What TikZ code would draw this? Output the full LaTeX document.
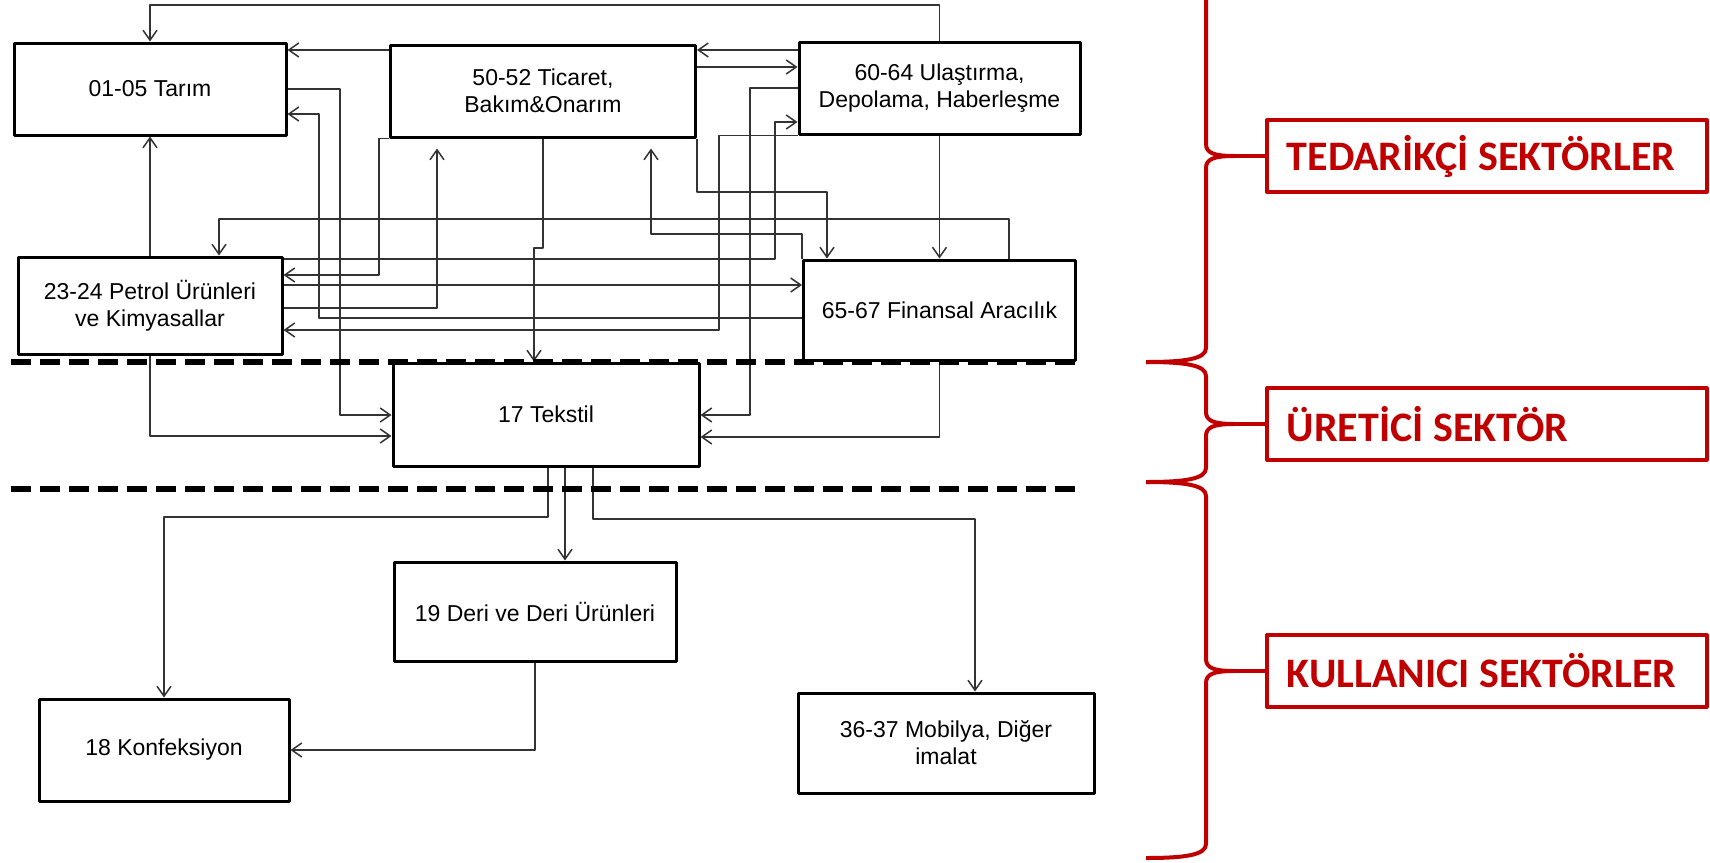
\documentclass[tikz,border=0pt]{standalone}
\usepackage{fontspec}
\setmainfont{Liberation Sans}
\newfontfamily\etiketfont{Carlito}
\usetikzlibrary{arrows.meta}
\definecolor{kirmizi}{RGB}{192,0,0}
\begin{document}
\begin{tikzpicture}[
				x=1pt,y=-1pt,line join = round,>={Straight Barb[length=10pt,width=14pt]},
				kutu/.style={rectangle,draw = black,line width=3pt,fill = white,inner sep=0pt,align=center,font=\fontsize{23}{27}\selectfont},
				etiket/.style={rectangle,draw = kirmizi,line width=3.5pt,fill = white,anchor=west,inner xsep=20pt,minimum height=72pt,text=kirmizi,font=\etiketfont\bfseries\fontsize{42}{48}\selectfont},
				ok/.style={->,line width=1.5pt,draw = black!80},
				ayrac/.style={line width=6pt,dash pattern=on 20pt off 9pt},
				kume/.style={draw = kirmizi,line width=4pt}]
				\useasboundingbox (0,0) rectangle (1710,862);
				\clip (0,0) rectangle (1710,862);
				\node at (150,89) (nodeTarim) [kutu,minimum width=272pt,minimum height=92pt] {01-05 Tarım};
				\node at (543,91) (nodeTic) [kutu,minimum width=305pt,minimum height=92pt] {50-52 Ticaret,\\Bakım\&Onarım};
				\node at (939.5,88) (nodeUlas) [kutu,minimum width=281pt,minimum height=92pt] {60-64 Ulaştırma,\\Depolama, Haberleşme};
				\node at (150,305.5) (nodePet) [kutu,minimum width=264pt,minimum height=97pt] {23-24 Petrol Ürünleri\\ve Kimyasallar};
				\node at (939.5,310) (nodeFin) [kutu,minimum width=272pt,minimum height=100pt] {65-67 Finansal Aracılık};
				\node at (546,414.5) (nodeTek) [kutu,minimum width=306pt,minimum height=103pt] {17 Tekstil};
				\node at (535,611.5) (nodeDeri) [kutu,minimum width=282pt,minimum height=99pt] {19 Deri ve Deri Ürünleri};
				\node at (164,750) (nodeKonf) [kutu,minimum width=250pt,minimum height=102pt] {18 Konfeksiyon};
				\node at (946,743) (nodeMob) [kutu,minimum width=296pt,minimum height=100pt] {36-37 Mobilya, Diğer\\imalat};
				\draw[ok] (nodeUlas.north) |- (150,5) -- (nodeTarim.north);
				\draw[ok] (nodeTic.west |- 0,50) -- (nodeTarim.east |- 0,50);
				\draw[ok] (nodeUlas.west |- 0,50) -- (nodeTic.east |- 0,50);
				\draw[ok] (nodeTic.east |- 0,67) -- (nodeUlas.west |- 0,67);
				\draw[ok] (nodeTarim.east) -| (340,415) -- (nodeTek.west |- 0,415);
				\draw[ok] (nodePet.north) -- (nodeTarim.south);
				\draw[ok] (nodePet.south) |- (nodeTek.west |- 0,436);
				\draw[ok] (nodeFin.north -| 1009,0) |- (219,219) -- (nodePet.north -| 219,0);
				\draw[ok] (nodeTic.south west) -| (379,275) -- (nodePet.east |- 0,275);
				\draw[ok,shorten >=10pt] (nodePet.east |- 0,308) -| (nodeTic.south -| 437,0);
				\draw[ok] (nodePet.east |- 0,259) -| (775,122) -- (nodeUlas.west |- 0,122);
				\draw[ok] (nodePet.east |- 0,285) -- (nodeFin.west |- 0,285);
				\draw[ok] (nodeFin.west |- 0,318) -| (319,114) -- (nodeTarim.east |- 0,114);
				\draw[ok] (nodeUlas.south west) -| (719,330) -- (nodePet.east |- 0,330);
				\draw[ok] (nodeUlas.west) -| (750,415) -- (nodeTek.east |- 0,415);
				\draw[ok] (nodeFin.south) |- (nodeTek.east |- 0,437);
				\draw[ok] (nodeUlas.south) -- (nodeFin.north);
				\draw[ok] (nodeTic.south east) |- (827,192) -- (nodeFin.north -| 827,0);
				\draw[ok,shorten >=10pt] (nodeFin.north west) |- (651,234) -- (nodeTic.south -| 651,0);
				\draw[ok] (nodeTic.south) |- (534,248) -- (nodeTek.north -| 534,0);
				\draw[ok] (nodeTek.south -| 548,0) -- (548,517) -| (nodeKonf.north);
				\draw[ok] (nodeTek.south -| 565,0) -- (nodeDeri.north -| 565,0);
				\draw[ok] (nodeTek.south -| 593,0) -- (593,519) -| (nodeMob.north -| 975,0);
				\draw[ok] (nodeDeri.south) |- (nodeKonf.east);
				\draw[ayrac] (11,362) -- (1083,362);
				\draw[ayrac] (11,489) -- (1077,489);
				\node at (1265,156) (nodeTed) [etiket] {\makebox[400pt][l]{TEDARİKÇİ SEKTÖRLER}};
				\node at (1265,424) (nodeUre) [etiket] {\makebox[400pt][l]{ÜRETİCİ SEKTÖR}};
				\node at (1265,671) (nodeKul) [etiket] {\makebox[400pt][l]{KULLANICI SEKTÖRLER}};
				\coordinate (ucTed) at (1234,156);
				\coordinate (ucUre) at (1234,424);
				\coordinate (ucKul) at (1234,671);
				\draw[kume] (1206,-10) -- (1206,144) .. controls (1206,153) and (1214,156) .. (ucTed) .. controls (1214,156) and (1206,159) .. (1206,168) -- (1206,348) .. controls (1206,359) and (1185,362) .. (1146,362);
				\draw[kume] (1146,362) .. controls (1185,362) and (1206,365) .. (1206,376) -- (1206,412) .. controls (1206,421) and (1214,424) .. (ucUre) .. controls (1214,424) and (1206,427) .. (1206,436) -- (1206,468) .. controls (1206,479) and (1185,482) .. (1146,482);
				\draw[kume] (1146,482) .. controls (1185,482) and (1206,485) .. (1206,496) -- (1206,659) .. controls (1206,668) and (1214,671) .. (ucKul) .. controls (1214,671) and (1206,674) .. (1206,683) -- (1206,844) .. controls (1206,855) and (1185,858) .. (1146,858);
				\draw[kume] (ucTed) -- (nodeTed.west);
				\draw[kume] (ucUre) -- (nodeUre.west);
				\draw[kume] (ucKul) -- (nodeKul.west);
			\end{tikzpicture}
\end{document}
